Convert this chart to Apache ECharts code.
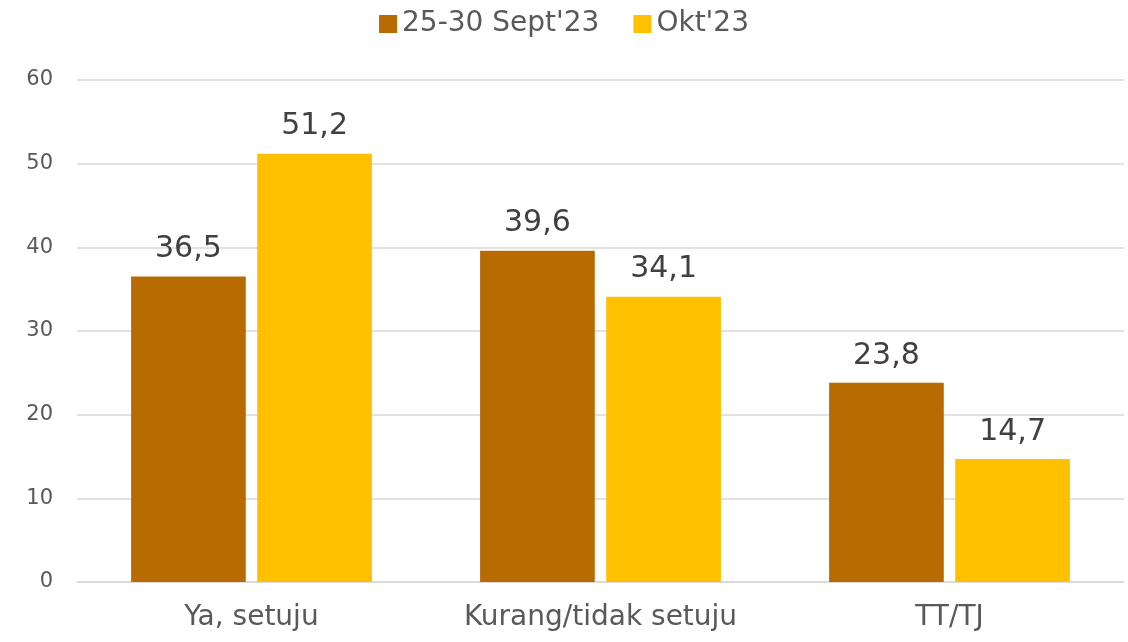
<!DOCTYPE html>
<html>
<head>
<meta charset="utf-8">
<script src="https://cdn.jsdelivr.net/npm/echarts@6/dist/echarts.min.js"></script>
<style>
  html, body { margin: 0; padding: 0; background: #fff; }
  #chart { width: 1128px; height: 642px; }
</style>
</head>
<body>
<div id="chart"></div>
<script>
var categories = ['Ya, setuju', 'Kurang/tidak setuju', 'TT/TJ'];
var seriesNames = ["25-30 Sept'23", "Okt'23"];
var septData = [36.5, 39.6, 23.8];
var oktData = [51.2, 34.1, 14.7];

(function () {
    var myChart = echarts.init(document.getElementById('chart'));
    var font = '"DejaVu Sans", sans-serif';
    var labelFmt = function (p) {
        return String(p.value).replace('.', ',');
    };
    var option = {
        animation: false,
        textStyle: { fontFamily: font, color: '#595959' },
        legend: {
            top: 5,
            left: 'center',
            itemWidth: 18,
            itemHeight: 18,
            itemGap: 34,
            icon: 'rect',
            textStyle: { fontSize: 28, color: '#595959', fontFamily: font }
        },
        grid: {
            left: 77,
            right: 4,
            top: 80,
            bottom: 60
        },
        xAxis: {
            type: 'category',
            data: categories,
            axisTick: { show: false },
            axisLine: { lineStyle: { color: '#D9D9D9', width: 1.5 } },
            axisLabel: { interval: 0, hideOverlap: false, fontSize: 28, color: '#595959', margin: 22, fontFamily: font }
        },
        yAxis: {
            type: 'value',
            min: 0,
            max: 60,
            interval: 10,
            axisLine: { show: false },
            axisTick: { show: false },
            splitLine: { lineStyle: { color: '#D9D9D9', width: 1.5 } },
            axisLabel: { fontSize: 21, color: '#595959', margin: 24, fontFamily: font }
        },
        series: [
            {
                name: seriesNames[0],
                type: 'bar',
                data: septData,
                barGap: '10%',
                barCategoryGap: '31%',
                itemStyle: { color: '#B86B00' },
                label: {
                    show: true,
                    position: 'top',
                    distance: 12,
                    fontSize: 30,
                    color: '#404040',
                    fontFamily: font,
                    formatter: labelFmt
                }
            },
            {
                name: seriesNames[1],
                type: 'bar',
                data: oktData,
                barGap: '10%',
                barCategoryGap: '31%',
                itemStyle: { color: '#FFC000' },
                label: {
                    show: true,
                    position: 'top',
                    distance: 12,
                    fontSize: 30,
                    color: '#404040',
                    fontFamily: font,
                    formatter: labelFmt
                }
            }
        ]
    };
    myChart.setOption(option);
})();
</script>
</body>
</html>
